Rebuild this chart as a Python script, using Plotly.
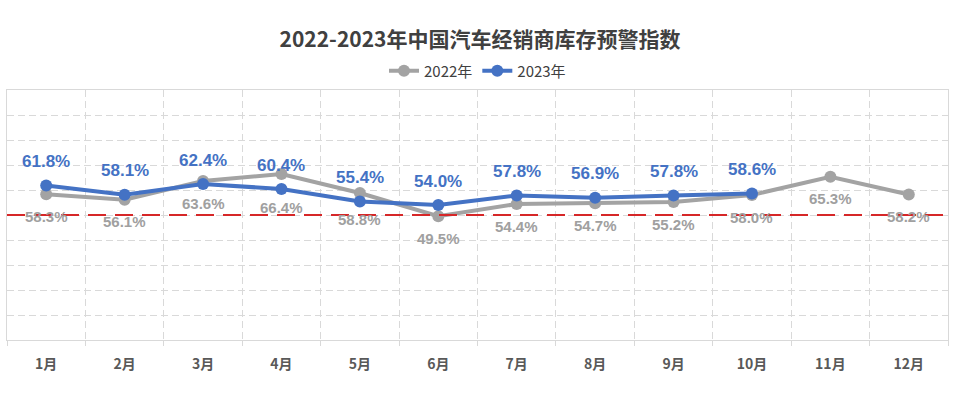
import plotly.graph_objects as go

months = ["1月", "2月", "3月", "4月", "5月", "6月", "7月", "8月", "9月", "10月", "11月", "12月"]
values_2022 = [58.3, 56.1, 63.6, 66.4, 58.8, 49.5, 54.4, 54.7, 55.2, 58.0, 65.3, 58.2]
values_2023 = [61.8, 58.1, 62.4, 60.4, 55.4, 54.0, 57.8, 56.9, 57.8, 58.6]
warning_line = 50
title_text = "2022-2023年中国汽车经销商库存预警指数"

x_all = list(range(1, len(months) + 1))
x_2022 = x_all[:len(values_2022)]
x_2023 = x_all[:len(values_2023)]

GRAY = "#A3A3A3"
GRAY_TXT = "#A0A0A0"
BLUE = "#4472C4"
GRID = "#D9D9D9"
NUM_FONT = "Liberation Sans, Arial, sans-serif"
CJK_FONT = "Noto Sans CJK SC, sans-serif"

fig = go.Figure()
fig.add_trace(go.Scatter(
    x=x_2022, y=values_2022, name="2022年", mode="lines+markers",
    line=dict(color=GRAY, width=4), marker=dict(color=GRAY, size=12),
))
fig.add_trace(go.Scatter(
    x=x_2023, y=values_2023, name="2023年", mode="lines+markers",
    line=dict(color=BLUE, width=4), marker=dict(color=BLUE, size=12),
))

fig.add_shape(type="line", xref="paper", x0=0, x1=1, yref="y", y0=warning_line, y1=warning_line,
              line=dict(color="#D62728", width=2, dash="18px,9px"), layer="above")

# data labels
shift_2022 = {3: -33, 4: -26}
for i, (x, v) in enumerate(zip(x_2022, values_2022)):
    fig.add_annotation(x=x, y=v, text=f"<b>{v:.1f}%</b>", showarrow=False,
                       yshift=shift_2022.get(i, -22),
                       font=dict(family=NUM_FONT, size=15, color=GRAY_TXT))
for x, v in zip(x_2023, values_2023):
    fig.add_annotation(x=x, y=v, text=f"<b>{v:.1f}%</b>", showarrow=False, yshift=24,
                       font=dict(family=NUM_FONT, size=17, color=BLUE))

fig.update_layout(
    width=960, height=394,
    margin=dict(l=7, r=12, t=90, b=54, autoexpand=False),
    paper_bgcolor="white", plot_bgcolor="white",
    title=dict(text=f"<b>{title_text}</b>", x=0.5, xanchor="center",
               y=(394 - 40) / 394, yanchor="middle", yref="container", automargin=False,
               font=dict(family=CJK_FONT, size=21, color="#404040")),
    legend=dict(orientation="h", x=0.5, xanchor="center", y=1.076, yanchor="middle",
                font=dict(family=CJK_FONT, size=15, color="#404040"),
                itemwidth=30, bgcolor="rgba(0,0,0,0)"),
    showlegend=True,
)

fig.update_xaxes(
    range=[0.5, len(months) + 0.5], automargin=False,
    tickmode="array", tickvals=x_all, ticktext=[f"<b>{m}</b>" for m in months],
    tickfont=dict(family=CJK_FONT, size=14, color="#595959"),
    showgrid=False, zeroline=False,
    showline=True, linecolor=GRID, linewidth=1, mirror=True,
    ticks="", ticklabelstandoff=11,
    minor=dict(tickmode="linear", tick0=0.5, dtick=1, showgrid=True,
               gridcolor=GRID, griddash="7px,4px", gridwidth=1,
               ticks="outside", ticklen=5, tickcolor=GRID),
)
fig.update_yaxes(
    range=[0, 100], dtick=10, showticklabels=False, automargin=False,
    showgrid=True, gridcolor=GRID, griddash="7px,4px", gridwidth=1,
    zeroline=False, showline=True, linecolor=GRID, linewidth=1, mirror=True,
)

fig.write_html("out.html", config={"displayModeBar": False},
               post_script="document.body.style.margin='0';document.body.style.padding='0';")
